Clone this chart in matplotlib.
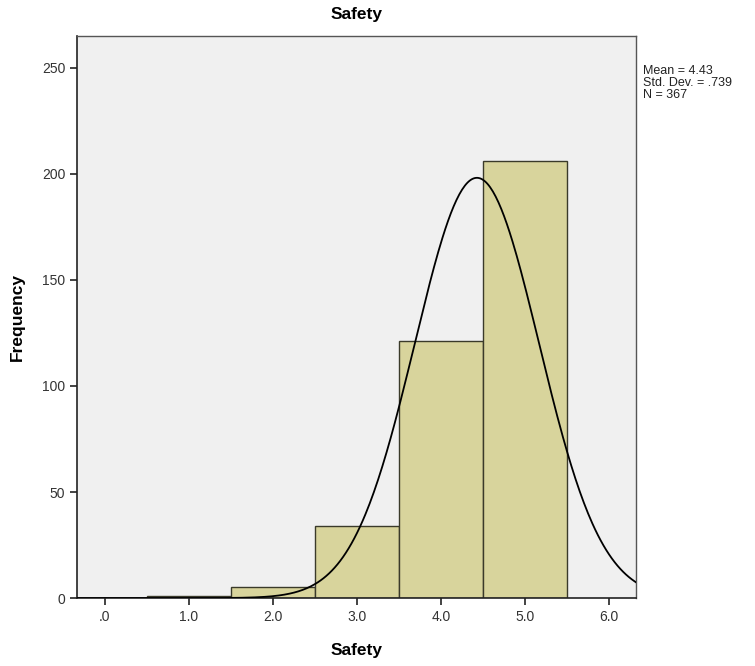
import numpy as np
import matplotlib.pyplot as plt

plt.rcParams['font.family'] = ['Liberation Sans', 'DejaVu Sans']

# Safety score histogram (bin centres and counts)
bin_centers = [1.0, 2.0, 3.0, 4.0, 5.0]
counts = [1, 5, 34, 121, 206]
mean_val = 4.43
std_val = 0.739
n_total = 367
xtick_vals = [0, 1, 2, 3, 4, 5, 6]
xtick_labels = ['.0', '1.0', '2.0', '3.0', '4.0', '5.0', '6.0']
ytick_vals = [0, 50, 100, 150, 200, 250]

fig = plt.figure(figsize=(7.55, 6.66), dpi=100)
ax = fig.add_axes([0.102, 0.102, 0.740, 0.844])
ax.set_facecolor('#f0f0f0')

ax.bar(bin_centers, counts, width=1.0, color='#d8d49c', edgecolor='#3a3a2a',
       linewidth=1.0, zorder=2)

# fitted normal curve scaled to counts (bin width 1)
xs = np.linspace(-0.33, 6.32, 400)
ys = n_total * 1.0 / (std_val * np.sqrt(2 * np.pi)) * np.exp(-0.5 * ((xs - mean_val) / std_val) ** 2)
ax.plot(xs, ys, color='black', linewidth=1.3, zorder=3)

ax.set_xlim(-0.33, 6.32)
ax.set_ylim(0, 265)
ax.set_xticks(xtick_vals)
ax.set_xticklabels(xtick_labels)
ax.set_yticks(ytick_vals)
ax.tick_params(axis='both', labelsize=10, length=5, width=1.2, color='#222222',
               labelcolor='#333333')
for side in ['left', 'bottom']:
    ax.spines[side].set_linewidth(1.2)
    ax.spines[side].set_color('#222222')
for side in ['top', 'right']:
    ax.spines[side].set_linewidth(1.0)
    ax.spines[side].set_color('#555555')

ax.set_title('Safety', fontsize=12.5, fontweight='bold', pad=12)
ax.set_xlabel('Safety', fontsize=12.5, fontweight='bold', labelpad=14)
ax.set_ylabel('Frequency', fontsize=12.5, fontweight='bold', labelpad=12)

fig.text(0.851, 0.903, 'Mean = %.2f\nStd. Dev. = .739\nN = %d' % (mean_val, n_total),
         fontsize=9, va='top', ha='left', linespacing=1.0, color='#222222')

fig.savefig('out.png', dpi=100)
